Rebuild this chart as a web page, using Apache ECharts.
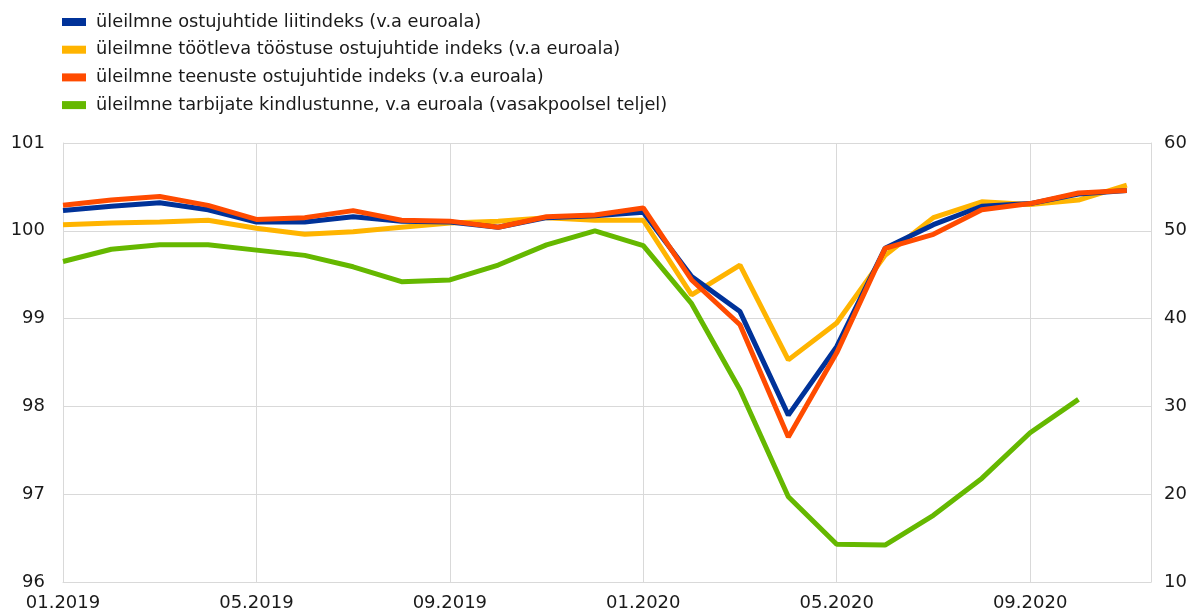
<!DOCTYPE html>
<html>
<head>
<meta charset="utf-8">
<script src="https://cdn.jsdelivr.net/npm/echarts@6/dist/echarts.min.js"></script>
<style>html,body{margin:0;padding:0;background:#fff}#c{width:1196px;height:616px}</style>
</head>
<body>
<div id="c"></div>
<script>
var months = ["01.2019","02.2019","03.2019","04.2019","05.2019","06.2019","07.2019","08.2019","09.2019","10.2019","11.2019","12.2019",
              "01.2020","02.2020","03.2020","04.2020","05.2020","06.2020","07.2020","08.2020","09.2020","10.2020","11.2020"];
var seriesNames = [
  "üleilmne ostujuhtide liitindeks (v.a euroala)",
  "üleilmne töötleva tööstuse ostujuhtide indeks (v.a euroala)",
  "üleilmne teenuste ostujuhtide indeks (v.a euroala)",
  "üleilmne tarbijate kindlustunne, v.a euroala (vasakpoolsel teljel)"
];
var compositePMI = [52.3,52.8,53.2,52.4,51.0,51.0,51.6,51.1,51.0,50.4,51.5,51.7,52.1,44.8,40.8,29.0,36.8,48.0,50.7,52.8,53.1,54.2,54.6];
var manufPMI     = [50.7,50.9,51.0,51.2,50.3,49.6,49.9,50.4,50.9,51.1,51.5,51.2,51.2,42.7,46.1,35.3,39.5,47.2,51.5,53.3,53.0,53.5,55.2];
var servicesPMI  = [52.9,53.5,53.9,52.9,51.3,51.5,52.3,51.2,51.1,50.4,51.6,51.8,52.6,44.4,39.3,26.5,36.1,48.0,49.6,52.4,53.1,54.3,54.6];
var consumerConf = [99.65,99.79,99.84,99.84,99.78,99.72,99.59,99.42,99.44,99.61,99.84,100.0,99.83,99.17,98.19,96.97,96.43,96.42,96.76,97.18,97.70,98.08];
var colors = ["#003299","#FFB400","#FF4B00","#65B800"];

function pairs(arr){ return arr.map(function(v,i){ return [i,v]; }); }

var chart = echarts.init(document.getElementById('c'));
var font = 'DejaVu Sans, Liberation Sans, Arial, sans-serif';
var txt = {color:'#1a1a1a', fontFamily:font, fontSize:18};
var gridColor = '#d9d9d9';
chart.setOption({
  animation:false,
  color: colors,
  legend:{
    orient:'vertical', left:57, top:7, itemWidth:24, itemHeight:8, itemGap:7.7,
    icon:'rect',
    textStyle:{color:'#1a1a1a', fontFamily:font, fontSize:17.8, lineHeight:20, padding:[0,0,0,5]},
    data: seriesNames
  },
  grid:{left:63, right:45, top:143, bottom:34, containLabel:false},
  xAxis:{
    type:'value', min:0, max:22.5, interval:4,
    axisLine:{show:true, lineStyle:{color:gridColor}},
    axisTick:{show:false},
    splitLine:{show:true, lineStyle:{color:gridColor}},
    axisLabel:Object.assign({margin:12, showMaxLabel:false, formatter:function(v){ return months[v] || ''; }}, txt)
  },
  yAxis:[
    {type:'value', min:96, max:101, interval:1, position:'left',
     axisLine:{show:true, lineStyle:{color:gridColor}}, axisTick:{show:false},
     splitLine:{show:true, lineStyle:{color:gridColor}},
     axisLabel:Object.assign({margin:18}, txt)},
    {type:'value', min:10, max:60, interval:10, position:'right',
     axisLine:{show:true, lineStyle:{color:gridColor}}, axisTick:{show:false},
     splitLine:{show:false},
     axisLabel:Object.assign({margin:13}, txt)}
  ],
  series:[
    {name:seriesNames[0], type:'line', yAxisIndex:1, data:pairs(compositePMI), symbol:'none', lineStyle:{width:5, color:colors[0]}, z:3},
    {name:seriesNames[1], type:'line', yAxisIndex:1, data:pairs(manufPMI), symbol:'none', lineStyle:{width:5, color:colors[1]}, z:2},
    {name:seriesNames[2], type:'line', yAxisIndex:1, data:pairs(servicesPMI), symbol:'none', lineStyle:{width:5, color:colors[2]}, z:4},
    {name:seriesNames[3], type:'line', yAxisIndex:0, data:pairs(consumerConf), symbol:'none', lineStyle:{width:5, color:colors[3]}, z:1}
  ]
});
</script>
</body>
</html>
